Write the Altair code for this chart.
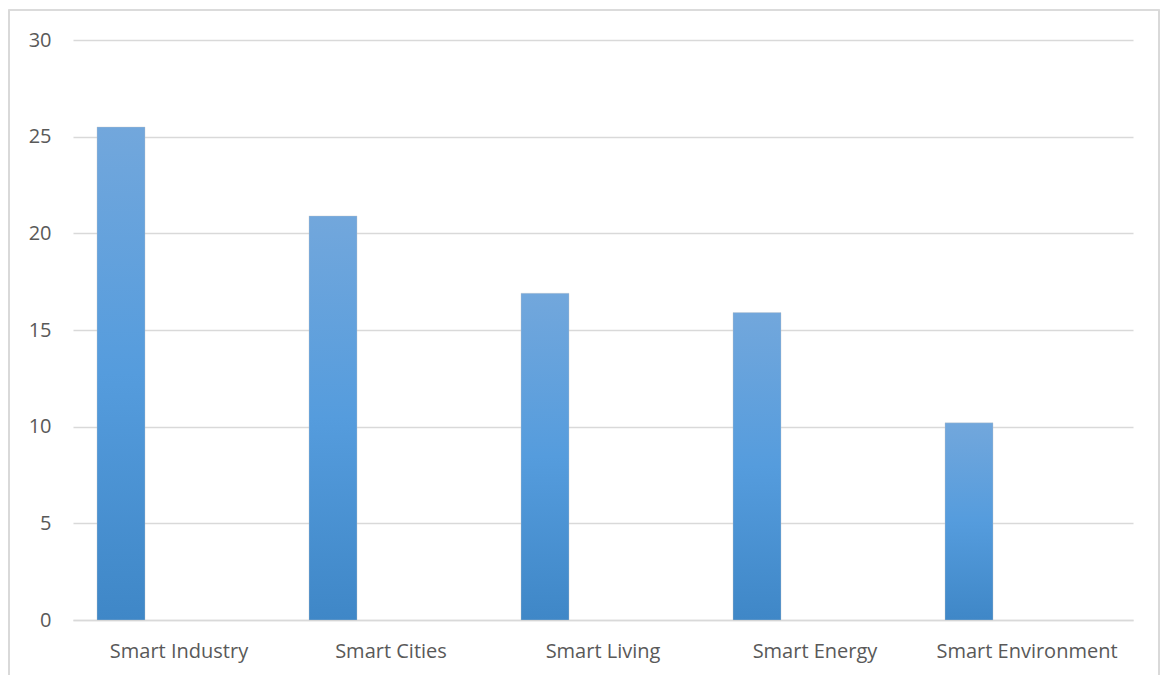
import altair as alt
import pandas as pd

categories = ["Smart Industry", "Smart Cities", "Smart Living", "Smart Energy", "Smart Environment"]
values = [25.5, 20.9, 16.9, 15.9, 10.2]
y_ticks = [0, 5, 10, 15, 20, 25, 30]

df = pd.DataFrame({"category": categories, "value": values})

font = "Open Sans"

x_enc = alt.X("category:N", sort=categories, title=None,
              scale=alt.Scale(paddingInner=0, paddingOuter=0),
              axis=alt.Axis(labelAngle=0, labelFont=font, labelFontSize=20,
                            labelColor="#595959", labelPadding=21, ticks=False,
                            labelLimit=400, labelOverlap=False,
                            domain=True, domainColor="#d9d9d9", domainWidth=1.5,
                            grid=False))
y_enc = alt.Y("value:Q", title=None,
              scale=alt.Scale(domain=[0, 30], nice=False),
              axis=alt.Axis(values=y_ticks, labelFont=font, labelFontSize=20,
                            labelColor="#595959", labelPadding=22, ticks=False,
                            domain=False, gridColor="#d9d9d9", gridWidth=1.5))

grad = alt.Gradient(
    gradient="linear",
    stops=[alt.GradientStop(color="#72a7dc", offset=0),
           alt.GradientStop(color="#559cdd", offset=0.5),
           alt.GradientStop(color="#3f87c7", offset=1)],
    x1=0, x2=0, y1=0, y2=1,
)

bars = alt.Chart(df).mark_bar(width=48, xOffset=-58, fill=grad,
                              stroke="#c8c8c8", strokeWidth=0.6, strokeOpacity=0.6).encode(
    x=x_enc, y=y_enc
)

border = alt.Chart(df).mark_rect(fill=None, stroke="#d9d9d9", strokeWidth=1.2, clip=False).encode(
    x=alt.value(-64), x2=alt.value(1086), y=alt.value(-30), y2=alt.value(720)
)

chart = alt.layer(border, bars).properties(
    width=1060, height=580,
    autosize=alt.AutoSizeParams(type="none"),
    padding={"left": 73, "top": 40, "right": 28, "bottom": 55},
    background="white",
).configure_view(stroke=None)

chart.save("out.html", embed_options={"renderer": "svg", "actions": False})
